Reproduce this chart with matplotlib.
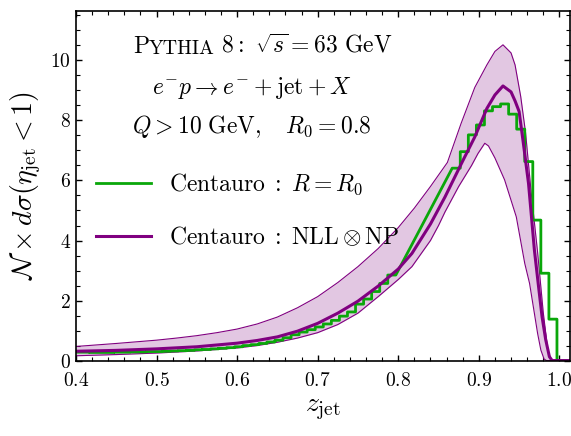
import matplotlib
matplotlib.use("Agg")
import matplotlib.pyplot as plt
import numpy as np

plt.rcParams['font.family'] = 'serif'
plt.rcParams['font.serif'] = ['cmr10', 'DejaVu Serif']
plt.rcParams['mathtext.fontset'] = 'cm'
plt.rcParams['axes.formatter.use_mathtext'] = True

# Pythia histogram, bins of width 0.01
low_bin_start = 0.397
low_vals = [0.28, 0.28, 0.27, 0.27, 0.27, 0.28, 0.28, 0.29, 0.29, 0.30,
            0.30, 0.31, 0.32, 0.33, 0.34, 0.36, 0.37, 0.39, 0.41, 0.43,
            0.46, 0.50, 0.53, 0.57, 0.62, 0.68, 0.76, 0.86, 0.95, 1.03,
            1.12, 1.22, 1.34, 1.48, 1.62, 1.88, 2.05, 2.30, 2.57, 2.85]
high_bin_start = 0.867
high_vals = [6.41, 6.96, 7.52, 7.85, 8.32, 8.46, 8.55, 8.21, 7.71, 6.63,
             4.68, 2.91, 1.38, 0.0, 0.0]
bin_width = 0.01

# NLL x NP central curve and band
z_c = [0.40, 0.45, 0.50, 0.55, 0.60, 0.625, 0.65, 0.675, 0.70, 0.725, 0.75, 0.775,
       0.80, 0.817, 0.84, 0.858, 0.88, 0.895, 0.91, 0.92, 0.93, 0.94, 0.945, 0.95,
       0.955, 0.9617, 0.965, 0.969, 0.974, 0.9785, 0.983, 0.9876, 0.991, 1.02]
v_c = [0.31, 0.34, 0.39, 0.46, 0.58, 0.67, 0.79, 0.98, 1.24, 1.58, 1.98, 2.48,
       3.05, 3.57, 4.55, 5.45, 6.65, 7.45, 8.40, 8.85, 9.15, 8.95, 8.65, 8.30,
       7.30, 5.90, 4.90, 3.68, 2.50, 1.46, 0.70, 0.13, 0.0, 0.0]

z_up = [0.40, 0.45, 0.50, 0.525, 0.55, 0.575, 0.60, 0.625, 0.65, 0.675, 0.70, 0.725,
        0.75, 0.775, 0.80, 0.82, 0.84, 0.861, 0.878, 0.895, 0.91, 0.92, 0.93, 0.94,
        0.945, 0.952, 0.958, 0.965, 0.973, 0.98, 0.9856, 0.99, 1.02]
v_up = [0.47, 0.57, 0.68, 0.75, 0.83, 0.93, 1.05, 1.22, 1.45, 1.76, 2.13, 2.60,
        3.13, 3.73, 4.43, 5.08, 5.80, 6.60, 7.90, 9.10, 9.85, 10.30, 10.52, 10.25,
        9.85, 8.80, 7.60, 5.60, 3.60, 1.60, 0.35, 0.0, 0.0]

z_lo = [0.40, 0.45, 0.50, 0.55, 0.60, 0.625, 0.65, 0.675, 0.70, 0.725, 0.75, 0.776,
        0.80, 0.817, 0.84, 0.85, 0.858, 0.875, 0.891, 0.899, 0.9074, 0.912, 0.92,
        0.932, 0.9465, 0.957, 0.963, 0.973, 0.977, 0.981, 0.984, 1.02]
v_lo = [0.16, 0.20, 0.25, 0.32, 0.42, 0.50, 0.61, 0.75, 0.93, 1.20, 1.58, 2.15,
        2.70, 3.13, 4.00, 4.50, 4.95, 5.80, 6.50, 6.90, 7.24, 7.15, 6.75,
        6.02, 4.79, 3.24, 2.57, 0.90, 0.35, 0.05, 0.0, 0.0]

purple = '#800080'
band_fill = '#e2c7e2'
green = '#0aa70a'


def step_vertices(start, values):
    xs, ys = [], []
    for i, v in enumerate(values):
        xs += [start + i * bin_width, start + (i + 1) * bin_width]
        ys += [v, v]
    return xs, ys


fig = plt.figure(figsize=(5.71, 4.36), dpi=100)
ax = fig.add_axes([0.133, 0.173, 0.865, 0.802])

# band
z_band = np.union1d(z_up, z_lo)
ax.fill_between(z_band, np.interp(z_band, z_lo, v_lo), np.interp(z_band, z_up, v_up),
                color=band_fill, lw=0)
ax.plot(z_up, v_up, color=purple, lw=0.8)
ax.plot(z_lo, v_lo, color=purple, lw=0.8)

# histogram
xl, yl = step_vertices(low_bin_start, low_vals)
xh, yh = step_vertices(high_bin_start, high_vals)
ax.plot(xl + xh, yl + yh, color=green, lw=2, label=r'$\mathrm{Centauro}\;:\;R=R_0$')

ax.plot(z_c, v_c, color=purple, lw=2.2, label=r'$\mathrm{Centauro}\;:\;\mathrm{NLL}\otimes\mathrm{NP}$')

ax.set_xlim(0.4, 1.013)
ax.set_ylim(0, 11.65)
ax.set_xticks([0.4, 0.5, 0.6, 0.7, 0.8, 0.9, 1.0])
ax.set_xticks(np.arange(0.4, 1.013, 0.02), minor=True)
ax.set_yticks([0, 2, 4, 6, 8, 10])
ax.set_yticks(np.arange(0, 11.65, 0.5), minor=True)
ax.tick_params(which='both', direction='in', top=True, right=True, labelsize=14)
ax.tick_params(which='major', length=4.5, width=1)
ax.tick_params(which='minor', length=3, width=0.8)
ax.tick_params(axis='x', pad=8)
for sp in ax.spines.values():
    sp.set_linewidth(1.2)

ax.set_xlabel(r'$z_{\mathrm{jet}}$', fontsize=20, labelpad=4)
ax.set_ylabel(r'$\mathcal{N}\times d\sigma(\eta_{\mathrm{jet}}<1)$', fontsize=20, labelpad=5)

# annotation lines
fs = 17
t1 = ax.text(0.115, 0.866, 'P', transform=ax.transAxes, fontsize=fs, va='bottom')
t2 = ax.annotate('YTHIA', xy=(1, 0), xycoords=t1, fontsize=fs * 0.84, va='bottom')
ax.annotate(r'$\ 8:\ \sqrt{s}=63\ \mathrm{GeV}$', xy=(1, 0), xycoords=t2, fontsize=fs, va='bottom')
ax.text(0.356, 0.779, r'$e^{-}p\rightarrow e^{-}+\mathrm{jet}+X$', transform=ax.transAxes,
        fontsize=fs, ha='center', va='center')
ax.text(0.356, 0.668, r'$Q>10\ \mathrm{GeV},\ \ \ R_0=0.8$', transform=ax.transAxes,
        fontsize=fs, ha='center', va='center')

ax.legend(loc='upper left', bbox_to_anchor=(0.04, 0.54), frameon=False, fontsize=17,
          handlelength=2.35, handletextpad=0.75, labelspacing=1.2, borderpad=0, borderaxespad=0)

fig.savefig('out.png', dpi=100)
